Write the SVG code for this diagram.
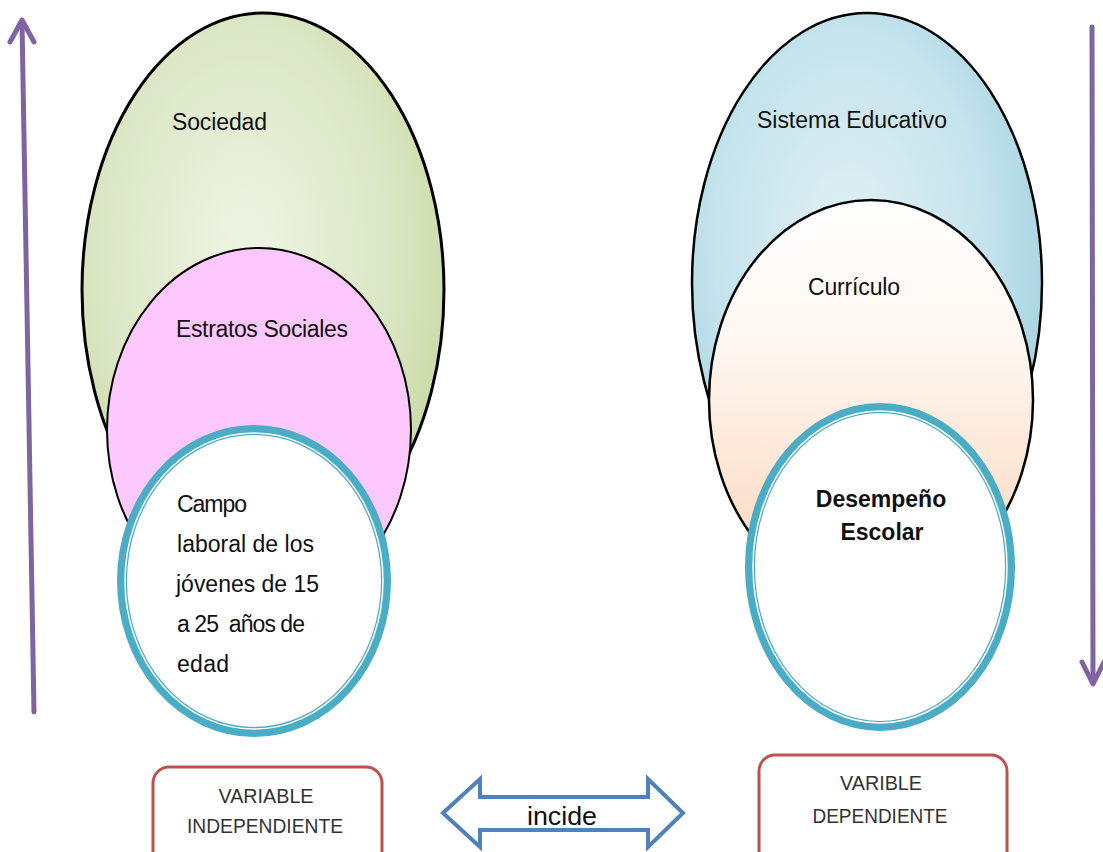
<svg xmlns="http://www.w3.org/2000/svg" width="1103" height="852" viewBox="0 0 1103 852">
  <style>
    .lbl { font-family: "Liberation Sans", Arial, sans-serif; fill: #111; }
    .big { font-size: 23px; }
    .bold { font-size: 23px; font-weight: bold; }
    .box { fill: #fff; stroke: #C0504D; stroke-width: 3; }
    .boxtxt { font-family: "Liberation Sans", Arial, sans-serif; font-size: 21px; fill: #333; text-anchor: middle; }
    .outline { stroke: #000; stroke-width: 3; }
    .ring { fill: #fff; stroke: #4BACC6; stroke-width: 10; }
    .ringline { fill: none; stroke: #fff; stroke-width: 1.5; }
    .vline { stroke: #8064A2; stroke-width: 5; fill: none; stroke-linecap: round; stroke-linejoin: round; }
  </style>
  <defs>
    <radialGradient id="gGreen" cx="0.45" cy="0.42" r="0.65">
      <stop offset="0" stop-color="#EEF4E4"/>
      <stop offset="0.6" stop-color="#DCE7C6"/>
      <stop offset="1" stop-color="#C6D79F"/>
    </radialGradient>
    <radialGradient id="gBlue" cx="0.45" cy="0.42" r="0.65">
      <stop offset="0" stop-color="#E2F1F5"/>
      <stop offset="0.6" stop-color="#C4E3EC"/>
      <stop offset="1" stop-color="#9DCFDD"/>
    </radialGradient>
    <linearGradient id="gPeach" x1="0" y1="0" x2="0" y2="1">
      <stop offset="0" stop-color="#FFFFFF"/>
      <stop offset="0.35" stop-color="#FEF7F1"/>
      <stop offset="0.75" stop-color="#FCE2CF"/>
      <stop offset="1" stop-color="#F9CFAE"/>
    </linearGradient>
  </defs>

  <g id="connectors">
    <g id="arrow-up">
      <line class="vline" x1="34" y1="712" x2="22" y2="22"/>
      <polyline class="vline" points="10,42 22,20 34,42"/>
    </g>
    <g id="arrow-down">
      <line class="vline" x1="1092" y1="27" x2="1093" y2="683"/>
      <polyline class="vline" points="1082,662 1093,684 1104,662"/>
    </g>
    <g id="incide">
      <path d="M443,813 L480,779 L480,797 L648,797 L648,779 L683,813 L648,847 L648,830 L480,830 L480,847 Z" fill="#fff" stroke="#4F81BD" stroke-width="4" stroke-linejoin="miter"/>
      <text class="lbl" x="527" y="825" font-size="26" textLength="70" lengthAdjust="spacingAndGlyphs">incide</text>
    </g>
  </g>

  <g id="sociedad">
    <ellipse cx="263" cy="290" rx="181" ry="277" fill="url(#gGreen)" class="outline"/>
    <text class="lbl big" x="172" y="130" textLength="95">Sociedad</text>
  </g>
  <g id="estratos">
    <ellipse cx="259" cy="430" rx="152" ry="182" fill="#FDC8FD" stroke="#000" stroke-width="2"/>
    <text class="lbl big" x="176" y="337" textLength="172">Estratos Sociales</text>
  </g>
  <g id="campo">
    <ellipse class="ring" cx="254" cy="581" rx="132" ry="151"/>
    <ellipse class="ringline" cx="254" cy="581" rx="129" ry="148"/>
    <text class="lbl big" x="177" y="512" textLength="70">Campo</text>
    <text class="lbl big" x="177" y="552" textLength="137">laboral de los</text>
    <text class="lbl big" x="176" y="592" textLength="143">jóvenes de 15</text>
    <text class="lbl big" x="177" y="632" textLength="128" xml:space="preserve">a 25  años de</text>
    <text class="lbl big" x="177" y="672" textLength="52">edad</text>
  </g>

  <g id="sistema">
    <ellipse cx="867" cy="283" rx="175" ry="270" fill="url(#gBlue)" stroke="#000" stroke-width="2.5"/>
    <text class="lbl big" x="757" y="128" textLength="190">Sistema Educativo</text>
  </g>
  <g id="curriculo">
    <ellipse cx="871" cy="400" rx="162" ry="200" fill="url(#gPeach)" stroke="#000" stroke-width="2.5"/>
    <text class="lbl big" x="808" y="295" textLength="92">Currículo</text>
  </g>
  <g id="desempeno">
    <ellipse class="ring" cx="880" cy="567" rx="130" ry="159"/>
    <ellipse class="ringline" cx="880" cy="567" rx="127" ry="156"/>
    <text class="lbl bold" x="881" y="507" text-anchor="middle">Desempeño</text>
    <text class="lbl bold" x="882" y="540" text-anchor="middle">Escolar</text>
  </g>

  <g id="var-independiente">
    <rect class="box" x="153" y="767" width="229" height="110" rx="16"/>
    <text class="boxtxt" x="266" y="803" textLength="95" lengthAdjust="spacingAndGlyphs">VARIABLE</text>
    <text class="boxtxt" x="265" y="833" textLength="156" lengthAdjust="spacingAndGlyphs">INDEPENDIENTE</text>
  </g>
  <g id="var-dependiente">
    <rect class="box" x="759" y="755" width="248" height="120" rx="16"/>
    <text class="boxtxt" x="881" y="790" textLength="82" lengthAdjust="spacingAndGlyphs">VARIBLE</text>
    <text class="boxtxt" x="880" y="823" textLength="135" lengthAdjust="spacingAndGlyphs">DEPENDIENTE</text>
  </g>
</svg>
